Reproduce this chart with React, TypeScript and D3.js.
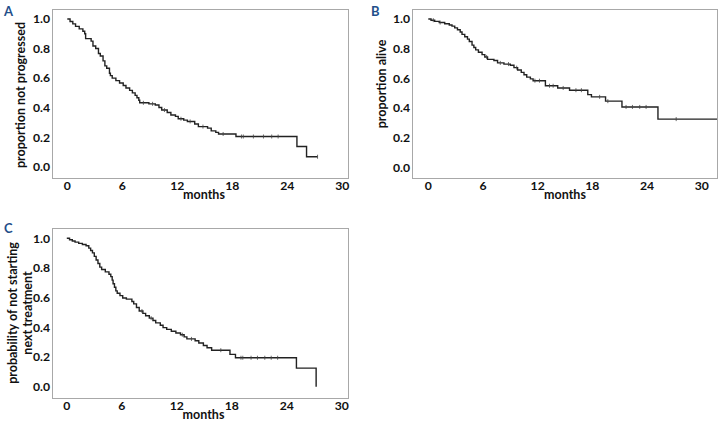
import React from "react";
import * as d3 from "d3";

// ---------- data ----------
const monthTicks = [0, 6, 12, 18, 24, 30];
const propTicks = [0, 0.2, 0.4, 0.6, 0.8, 1.0];

// Panel A: progression-free
const pfsTimes = [0.3, 0.6, 0.9, 1.3, 1.7, 1.9, 2.0, 2.6, 2.8, 3.1, 3.4, 3.6, 3.9, 4.1, 4.3, 4.6, 4.7, 4.9, 5.3, 5.7, 6.1, 6.4, 6.8, 7.1, 7.4, 7.6, 7.8, 7.9, 8.9, 9.6, 10.0, 10.3, 10.9, 11.3, 11.8, 12.1, 12.7, 13.1, 13.9, 14.3, 15.3, 15.7, 16.2, 16.5, 18.4, 25.05, 26.1];
const pfsSurv = [0.983, 0.967, 0.95, 0.933, 0.917, 0.9, 0.867, 0.85, 0.817, 0.8, 0.767, 0.75, 0.717, 0.683, 0.667, 0.633, 0.617, 0.6, 0.583, 0.567, 0.55, 0.533, 0.517, 0.5, 0.483, 0.467, 0.45, 0.433, 0.426, 0.418, 0.401, 0.384, 0.367, 0.35, 0.341, 0.325, 0.316, 0.307, 0.29, 0.272, 0.262, 0.243, 0.233, 0.222, 0.205, 0.137, 0.068];
const pfsCensor = [8.3, 9.3, 10.6, 12.4, 13.4, 14.8, 17.0, 19.0, 19.2, 20.3, 21.4, 22.3, 23.0, 27.3];
const pfsEnd = 27.3;

// Panel B: overall survival
const osTimes = [0.3, 0.7, 1.2, 1.8, 2.3, 2.6, 2.9, 3.2, 3.5, 3.7, 4.0, 4.3, 4.5, 4.8, 5.0, 5.2, 5.5, 5.9, 6.2, 6.5, 7.2, 7.6, 8.3, 9.0, 9.4, 9.8, 10.2, 10.5, 10.8, 11.2, 11.5, 12.85, 14.2, 15.5, 17.5, 17.9, 19.45, 21.25, 25.2];
const osSurv = [0.992, 0.984, 0.976, 0.968, 0.96, 0.952, 0.94, 0.928, 0.912, 0.896, 0.88, 0.864, 0.848, 0.824, 0.808, 0.792, 0.776, 0.76, 0.744, 0.728, 0.72, 0.704, 0.696, 0.688, 0.672, 0.656, 0.64, 0.624, 0.608, 0.596, 0.584, 0.55, 0.535, 0.52, 0.49, 0.475, 0.446, 0.407, 0.325];
const osCensor = [0.55, 1.3, 6.4, 7.9, 8.8, 9.7, 11.7, 12.2, 13.3, 13.7, 14.8, 16.2, 16.8, 18.8, 19.7, 21.7, 22.4, 23.2, 23.9, 27.2];
const osEnd = 32;

// Panel C: time to next treatment
const ttntTimes = [0.3, 0.6, 0.9, 1.3, 1.7, 2.1, 2.4, 2.6, 2.8, 3.0, 3.2, 3.4, 3.6, 3.8, 4.2, 4.6, 4.8, 4.95, 5.05, 5.2, 5.35, 5.5, 5.8, 6.1, 6.5, 7.1, 7.3, 7.6, 7.9, 8.3, 8.6, 9.0, 9.4, 9.7, 10.2, 10.5, 10.9, 11.4, 11.9, 12.4, 12.8, 13.1, 14.0, 14.4, 14.9, 15.3, 15.8, 17.8, 18.4, 25.05, 27.2];
const ttntSurv = [0.99, 0.982, 0.974, 0.966, 0.958, 0.95, 0.934, 0.918, 0.902, 0.878, 0.854, 0.83, 0.806, 0.79, 0.774, 0.758, 0.742, 0.718, 0.694, 0.67, 0.646, 0.63, 0.614, 0.598, 0.59, 0.574, 0.558, 0.534, 0.51, 0.494, 0.478, 0.462, 0.446, 0.43, 0.414, 0.398, 0.386, 0.374, 0.362, 0.35, 0.336, 0.322, 0.31, 0.294, 0.278, 0.262, 0.246, 0.218, 0.195, 0.125, 0.0];
const ttntCensor = [8.2, 9.2, 12.6, 13.6, 16.8, 19.0, 19.2, 20.1, 20.8, 21.6, 22.3, 23.0];
const ttntEnd = 27.2;

// ---------- layout ----------
const FONT = "Lato, 'Open Sans', sans-serif";
const TXT = "#111";
const LETTER = "#1f4f8a";
const FS = 12.2;

type Panel = {
  id: string;
  letter: string;
  letterPos: [number, number];
  box: { x: number; y: number; w: number; h: number };
  xr: [number, number];
  yr: [number, number];
  times: number[];
  surv: number[];
  censor: number[];
  end: number;
  ylabel: string[];
  ylabelX: number[];
  ylabelY: number;
  monthsPos: [number, number];
};

const panels: Panel[] = [
  {
    id: "A", letter: "A", letterPos: [4, 16],
    box: { x: 52, y: 9, w: 296, h: 169 },
    xr: [67.3, 342.3], yr: [166.8, 19],
    times: pfsTimes, surv: pfsSurv, censor: pfsCensor, end: pfsEnd,
    ylabel: ["proportion not progressed"], ylabelX: [21], ylabelY: 95, monthsPos: [204, 199],
  },
  {
    id: "B", letter: "B", letterPos: [371, 16],
    box: { x: 412, y: 9, w: 305, h: 169 },
    xr: [428.3, 701.7], yr: [167.3, 19],
    times: osTimes, surv: osSurv, censor: osCensor, end: osEnd,
    ylabel: ["proportion alive"], ylabelX: [382], ylabelY: 84, monthsPos: [565, 199],
  },
  {
    id: "C", letter: "C", letterPos: [4, 233],
    box: { x: 52, y: 228, w: 296, h: 170 },
    xr: [66.8, 341.8], yr: [386.7, 238.3],
    times: ttntTimes, surv: ttntSurv, censor: ttntCensor, end: ttntEnd,
    ylabel: ["probability of not starting", "next treatment"], ylabelX: [13, 27.5], ylabelY: 313, monthsPos: [203.5, 419],
  },
];

function survAt(times: number[], surv: number[], t: number) {
  let s = 1;
  for (let i = 0; i < times.length; i++) {
    if (times[i] <= t) s = surv[i];
    else break;
  }
  return s;
}

function KMPanel({ p }: { p: Panel }) {
  const x = d3.scaleLinear().domain([0, 30]).range(p.xr);
  const y = d3.scaleLinear().domain([0, 1]).range(p.yr);
  const pts: [number, number][] = [[0, 1]];
  p.times.forEach((t, i) => pts.push([t, p.surv[i]]));
  const last = p.surv[p.surv.length - 1];
  if (p.end > p.times[p.times.length - 1]) pts.push([p.end, last]);
  const line = d3
    .line<[number, number]>()
    .x((d) => x(d[0]))
    .y((d) => y(d[1]))
    .curve(d3.curveStepAfter);
  const clipId = `clip-${p.id}`;
  const b = p.box;
  return (
    <g>
      <defs>
        <clipPath id={clipId}>
          <rect x={b.x} y={b.y} width={b.w} height={b.h} />
        </clipPath>
      </defs>
      <rect x={b.x + 0.5} y={b.y + 0.5} width={b.w} height={b.h} fill="none" stroke="#a8a8a8" strokeWidth={1} />
      <g clipPath={`url(#${clipId})`}>
        <path d={line(pts) || ""} fill="none" stroke="#222" strokeWidth={1.4} />
        {p.censor.map((c, i) => {
          const cy = y(survAt(p.times, p.surv, c));
          return <line key={i} x1={x(c)} x2={x(c)} y1={cy - 2} y2={cy + 2} stroke="#444" strokeWidth={0.8} />;
        })}
      </g>
      {monthTicks.map((t) => (
        <text key={t} x={x(t)} y={b.y + b.h + 11.5} textAnchor="middle" fontFamily={FONT} fontWeight="bold" fontSize={FS} fill={TXT}>
          {t}
        </text>
      ))}
      {propTicks.map((v) => (
        <text key={v} x={b.x - 2} y={y(v)} dy="0.35em" textAnchor="end" fontFamily={FONT} fontWeight="bold" fontSize={FS} fill={TXT}>
          {v.toFixed(1)}
        </text>
      ))}
      <text x={p.monthsPos[0]} y={p.monthsPos[1]} textAnchor="middle" fontFamily={FONT} fontWeight="bold" fontSize={12.5} fill={TXT}>
        months
      </text>
      {p.ylabel.map((l, i) => (
        <text
          key={i}
          transform={`translate(${p.ylabelX[i]},${p.ylabelY}) rotate(-90)`}
          dy="0.35em"
          textAnchor="middle"
          fontFamily={FONT}
          fontWeight="bold"
          fontSize={12.5}
          fill={TXT}
        >
          {l}
        </text>
      ))}
      <text x={p.letterPos[0]} y={p.letterPos[1]} fontFamily={FONT} fontWeight="bold" fontSize={13} fill={LETTER}>
        {p.letter}
      </text>
    </g>
  );
}

export default function App() {
  return (
    <svg
      width={721}
      height={428}
      style={{ position: "absolute", left: 0, top: 0, background: "#fff" }}
    >
      <rect x={0} y={0} width={721} height={428} fill="#fff" />
      {panels.map((p) => (
        <KMPanel key={p.id} p={p} />
      ))}
    </svg>
  );
}
